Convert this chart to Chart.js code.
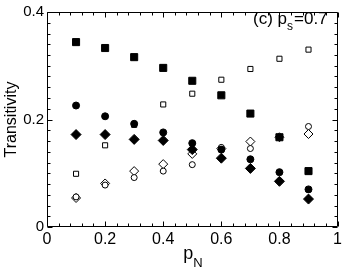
<!DOCTYPE html>
<html>
<head>
<meta charset="utf-8">
<script src="https://cdn.jsdelivr.net/npm/chart.js@4.4.1/dist/chart.umd.min.js"></script>
<style>
  html, body { margin: 0; padding: 0; background: #fff; }
  #wrap { width: 345px; height: 271px; }
</style>
</head>
<body>
<div id="wrap"><canvas id="chart" width="345" height="271"></canvas></div>
<script>
// p_N values on the x axis
var pN = [0.1, 0.2, 0.3, 0.4, 0.5, 0.6, 0.7, 0.8, 0.9];

// transitivity series
var filledSquare  = [0.344, 0.333, 0.316, 0.296, 0.272, 0.245, 0.211, 0.167, 0.104];
var openSquare    = [0.099, 0.152, 0.190, 0.228, 0.248, 0.274, 0.294, 0.313, 0.330];
var filledCircle  = [0.226, 0.206, 0.192, 0.176, 0.156, 0.144, 0.126, 0.102, 0.070];
var filledDiamond = [0.172, 0.172, 0.163, 0.161, 0.144, 0.128, 0.109, 0.085, 0.052];
var openCircle    = [0.056, 0.078, 0.092, 0.104, 0.116, 0.148, 0.146, 0.167, 0.187];
var openDiamond   = [0.054, 0.081, 0.104, 0.117, 0.136, 0.146, 0.159, 0.167, 0.173];

var xTicks = [0, 0.2, 0.4, 0.6, 0.8, 1];
var yTicks = [0, 0.2, 0.4];

function pts(values) {
    return values.map(function(v, i) { return { x: pN[i], y: v }; });
}

function series(values, style, radius, filled, order) {
    return {
        data: pts(values),
        showLine: false,
        pointStyle: style,
        pointRadius: radius,
        pointHoverRadius: radius,
        pointBorderWidth: 1,
        pointBorderColor: '#000',
        pointBackgroundColor: filled ? '#000' : '#fff',
        order: order
    };
}

var FONT = "'Liberation Sans', Arial, sans-serif";

// box + inward ticks on all four sides, and the axis titles
var framePlugin = {
    id: 'frame',
    afterDraw: function(chart) {
        var ctx = chart.ctx;
        var a = chart.chartArea;
        var x = chart.scales.x, y = chart.scales.y;
        var L = Math.round(a.left) + 0.5, R = Math.round(a.right) - 0.5;
        var T = Math.round(a.top) + 0.5, B = Math.round(a.bottom) - 0.5;
        ctx.save();
        ctx.strokeStyle = '#000';
        ctx.lineWidth = 1;
        ctx.beginPath();
        ctx.rect(L, T, R - L, B - T);
        for (var i = 0; i <= 25; i++) {
            var v = i * 0.04;
            var px = Math.round(x.getPixelForValue(v)) + 0.5;
            var len = (i % 5 === 0) ? 5 : 3;
            ctx.moveTo(px, B); ctx.lineTo(px, B - len);
            ctx.moveTo(px, T); ctx.lineTo(px, T + len);
        }
        for (var j = 0; j <= 20; j++) {
            var w = j * 0.02;
            var py = Math.round(y.getPixelForValue(w)) + 0.5;
            var l2 = (j % 10 === 0) ? 5 : 3;
            ctx.moveTo(L, py); ctx.lineTo(L + l2, py);
            ctx.moveTo(R, py); ctx.lineTo(R - l2, py);
        }
        ctx.stroke();

        ctx.fillStyle = '#000';
        // y title
        ctx.save();
        ctx.translate(12, (a.top + a.bottom) / 2);
        ctx.rotate(-Math.PI / 2);
        ctx.font = '16px ' + FONT;
        ctx.textAlign = 'center';
        ctx.textBaseline = 'middle';
        ctx.fillText('Transitivity', 0, 0);
        ctx.restore();

        // x title p_N
        ctx.textBaseline = 'alphabetic';
        ctx.textAlign = 'left';
        ctx.font = '18px ' + FONT;
        var cx = (a.left + a.right) / 2 - 9;
        ctx.fillText('p', cx, 259);
        var pw = ctx.measureText('p').width;
        ctx.font = '13px ' + FONT;
        ctx.fillText('N', cx + pw, 267);

        // label (c) p_s=0.7
        ctx.font = '17px ' + FONT;
        var tx = 253;
        ctx.fillText('(c) p', tx, 24);
        tx += ctx.measureText('(c) p').width;
        ctx.font = '12px ' + FONT;
        ctx.fillText('s', tx, 30);
        tx += ctx.measureText('s').width + 1;
        ctx.font = '17px ' + FONT;
        ctx.fillText('=0.7', tx, 24);
        ctx.restore();
    }
};

var ctx = document.getElementById('chart').getContext('2d');
var chart = new Chart(ctx, {
    type: 'scatter',
    data: {
        datasets: [
            series(filledSquare, 'rect', 5, true, 0),
            series(filledCircle, 'circle', 3.5, true, 0),
            series(filledDiamond, 'rectRot', 5, true, 0),
            series(openSquare, 'rect', 3.6, false, 1),
            series(openCircle, 'circle', 3, false, 1),
            series(openDiamond, 'rectRot', 4.5, false, 1)
        ]
    },
    options: {
        responsive: false,
        animation: false,
        layout: { padding: { top: 11, right: 7, left: 0, bottom: 0 } },
        plugins: {
            legend: { display: false },
            tooltip: { enabled: false }
        },
        scales: {
            x: {
                type: 'linear',
                min: 0,
                max: 1,
                afterFit: function(s) { s.height = 44; },
                afterBuildTicks: function(s) {
                    s.ticks = xTicks.map(function(v) { return { value: v }; });
                },
                grid: { display: false, drawTicks: false },
                border: { display: false },
                ticks: {
                    padding: 3,
                    color: '#000',
                    maxRotation: 0,
                    font: { size: 16, family: FONT },
                    callback: function(v) { return v === 0 ? '0' : (v === 1 ? '1' : v.toFixed(1)); }
                }
            },
            y: {
                type: 'linear',
                min: 0,
                max: 0.4,
                afterFit: function(s) { s.width = 47; },
                afterBuildTicks: function(s) {
                    s.ticks = yTicks.map(function(v) { return { value: v }; });
                },
                grid: { display: false, drawTicks: false },
                border: { display: false },
                ticks: {
                    padding: 3,
                    color: '#000',
                    font: { size: 15, family: FONT },
                    callback: function(v) { return v === 0 ? '0' : v.toFixed(1); }
                }
            }
        }
    },
    plugins: [framePlugin]
});
</script>
</body>
</html>
